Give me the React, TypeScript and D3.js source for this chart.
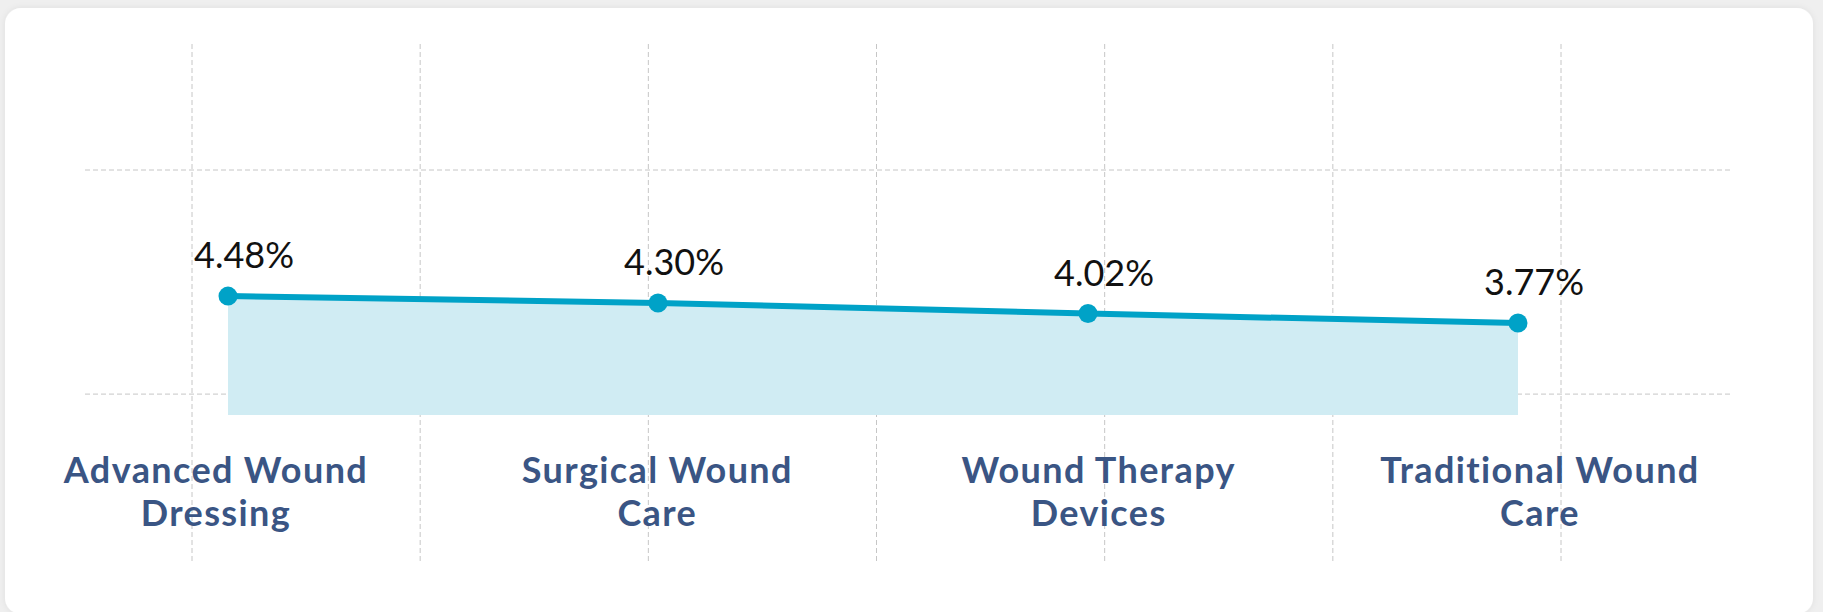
import React from 'react';
import * as d3 from 'd3';

// segments and their growth rates
const categories = [
  'Advanced Wound Dressing',
  'Surgical Wound Care',
  'Wound Therapy Devices',
  'Traditional Wound Care',
];
const categoryLines = [
  ['Advanced Wound', 'Dressing'],
  ['Surgical Wound', 'Care'],
  ['Wound Therapy', 'Devices'],
  ['Traditional Wound', 'Care'],
];
const values = [4.48, 4.3, 4.02, 3.77];
const valueLabels = ['4.48%', '4.30%', '4.02%', '3.77%'];
const gridValues = [1.9, 7.8];

const width = 1823;
const height = 612;
const baseValue = 1.35;
const lineColor = '#00a2c7';
const labelColor = '#3a5584';

export default function App() {
  const x = d3.scalePoint<string>().domain(categories).range([228, 1518]);
  const labelX = d3.scalePoint<string>().domain(categories).range([216, 1540]);
  const y = d3.scaleLinear().domain([baseValue, 7.8]).range([415, 170]);
  const gridX = d3.scaleLinear().domain([0, 6]).range([192, 1561]);

  const pts: [number, number][] = categories.map((c, i) => [x(c)!, y(values[i])]);
  const linePath = d3.line()(pts) || '';
  const areaPath =
    d3
      .area<[number, number]>()
      .x(d => d[0])
      .y0(y(baseValue))
      .y1(d => d[1])(pts) || '';

  return (
    <div style={{ position: 'absolute', left: 0, top: 0, width, height, background: '#efefef' }}>
      <svg width={width} height={height} style={{ display: 'block' }}>
        <defs>
          <filter id="cardShadow" x="-5%" y="-5%" width="110%" height="110%">
            <feDropShadow dx="0" dy="0" stdDeviation="3" floodColor="#000" floodOpacity="0.07" />
          </filter>
        </defs>
        <rect x={5} y={8} width={1808} height={606} rx={16} fill="#ffffff" filter="url(#cardShadow)" />

        <g stroke="#c6c6c6" strokeWidth={1} strokeDasharray="5,3">
          {d3.range(7).map(i => (
            <line key={'v' + i} x1={gridX(i)} x2={gridX(i)} y1={44} y2={561} />
          ))}
          {gridValues.map(v => (
            <line key={'h' + v} x1={85} x2={1731} y1={y(v)} y2={y(v)} />
          ))}
        </g>

        <path d={areaPath} fill="#d0ecf3" />
        <path d={linePath} fill="none" stroke={lineColor} strokeWidth={6} />
        {pts.map((p, i) => (
          <circle key={i} cx={p[0]} cy={p[1]} r={9.5} fill={lineColor} />
        ))}

        <g fontFamily="Lato, 'Open Sans', sans-serif" fontSize={36} fill="#111" textAnchor="middle">
          {pts.map((p, i) => (
            <text key={i} x={p[0] + 16} y={p[1] - 28}>
              {valueLabels[i]}
            </text>
          ))}
        </g>

        <g
          fontFamily="Lato, 'Open Sans', sans-serif"
          fontSize={36}
          fontWeight={700}
          letterSpacing={1.4}
          fill={labelColor}
          textAnchor="middle"
        >
          {categories.map((c, i) => (
            <text key={c} x={labelX(c)} y={483}>
              {categoryLines[i].map((t, j) => (
                <tspan key={j} x={labelX(c)} y={483 + j * 43}>
                  {t}
                </tspan>
              ))}
            </text>
          ))}
        </g>
      </svg>
    </div>
  );
}
